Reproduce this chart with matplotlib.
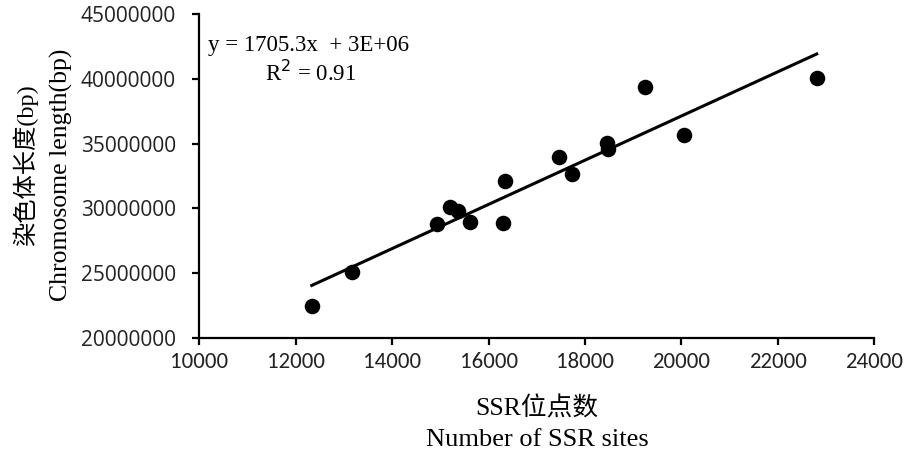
import numpy as np
import matplotlib.pyplot as plt
from matplotlib import font_manager
from matplotlib.ticker import FuncFormatter

# SSR site counts vs chromosome length
ssr_sites = [12330, 13170, 14920, 15200, 15360, 15620, 16290, 16340,
             17460, 17730, 18450, 18470, 19240, 20060, 22810]
chrom_len = [22480000, 25060000, 28770000, 30090000, 29800000, 28950000,
             28870000, 32140000, 34000000, 32640000, 35080000, 34570000,
             39360000, 35700000, 40050000]

x_ticks = [10000, 12000, 14000, 16000, 18000, 20000, 22000, 24000]
y_ticks = [20000000, 25000000, 30000000, 35000000, 40000000, 45000000]

eq_text = 'y = 1705.3x  + 3E+06'
r2_text = 'R$^2$ = 0.91'

serif = ['Liberation Serif', 'Noto Sans CJK SC']

def pick_font(cands):
    names = set(f.name for f in font_manager.fontManager.ttflist)
    for c in cands:
        if c in names:
            return c
    return 'DejaVu Sans'

def main():
    xfont = pick_font(['Carlito', 'Liberation Sans Narrow', 'Roboto Condensed', 'Liberation Sans'])
    xsize = 16.5 if xfont in ('Carlito', 'Liberation Sans Narrow', 'Roboto Condensed') else 14.5

    fig = plt.figure(figsize=(9.08, 4.57), dpi=100)
    ax = fig.add_axes([0.2197, 0.261, 0.7429, 0.7077])

    x = np.array(ssr_sites, dtype=float)
    y = np.array(chrom_len, dtype=float)
    ax.scatter(x, y, s=125, color='black', zorder=3, linewidths=0)

    # linear trendline over data range (like Excel)
    slope, inter = np.polyfit(x, y, 1)
    xs = np.array([x.min(), x.max()])
    ax.plot(xs, slope * xs + inter, color='black', linewidth=2.2, zorder=2)

    ax.set_xlim(10000, 24000)
    ax.set_ylim(20000000, 45000000)
    ax.set_xticks(x_ticks)
    ax.set_yticks(y_ticks)
    ax.yaxis.set_major_formatter(FuncFormatter(lambda v, p: '%d' % v))
    ax.xaxis.set_major_formatter(FuncFormatter(lambda v, p: '%d' % v))

    for s in ['top', 'right']:
        ax.spines[s].set_visible(False)
    for s in ['left', 'bottom']:
        ax.spines[s].set_linewidth(1.6)
    ax.tick_params(direction='out', length=5, width=1.6, colors='black')
    ax.tick_params(axis='x', pad=5, labelsize=xsize)
    ax.tick_params(axis='y', pad=12, labelsize=15)
    for lab in ax.get_xticklabels():
        lab.set_family(xfont)
        lab.set_color('#222222')
    for lab in ax.get_yticklabels():
        lab.set_family('Open Sans')
        lab.set_color('#222222')

    # equation box
    ax.text(0.0126, 0.902, eq_text, transform=ax.transAxes, family=serif,
            fontsize=16.5, ha='left', va='center')
    ax.text(0.097, 0.818, r2_text, transform=ax.transAxes, family=serif,
            fontsize=16.5, ha='left', va='center')

    # axis titles (two lines, Chinese + English)
    fig.text(25 / 908, 1 - 165 / 457, '染色体长度(bp)', rotation=90,
             family=serif, fontsize=17.5, ha='center', va='center')
    fig.text(61 / 908, 1 - 175 / 457, 'Chromosome length(bp)', rotation=90,
             family=serif, fontsize=18.5, ha='center', va='center')
    fig.text(537 / 908, 1 - 409 / 457, 'SSR位点数', family=serif,
             fontsize=18.5, ha='center', va='center')
    fig.text(537 / 908, 1 - 440 / 457, 'Number of SSR sites', family=serif,
             fontsize=19, ha='center', va='center')

    fig.savefig('out.png', dpi=100)
    plt.close(fig)

if __name__ == "__main__":
    main()
